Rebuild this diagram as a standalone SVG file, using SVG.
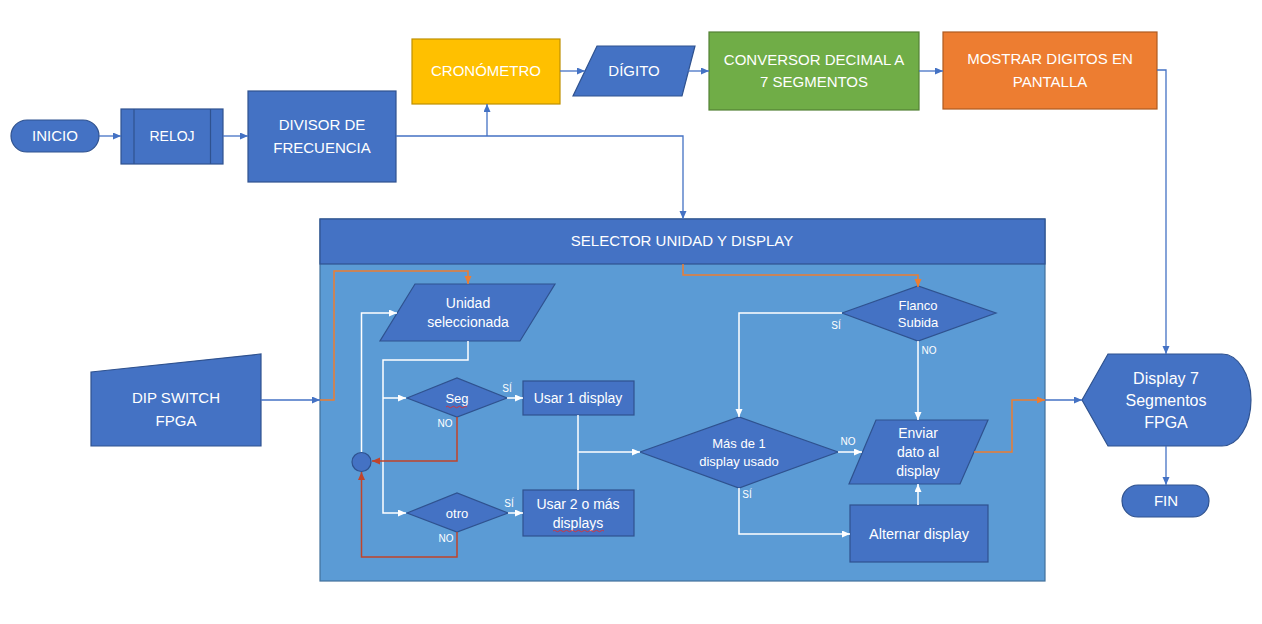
<svg xmlns="http://www.w3.org/2000/svg" width="1262" height="624" viewBox="0 0 1262 624">
<defs>
<marker id="aB" markerUnits="userSpaceOnUse" markerWidth="9" markerHeight="8" refX="8" refY="3.5" orient="auto"><path d="M0,0 L8,3.5 L0,7 z" fill="#4472C4"/></marker>
<marker id="aW" markerUnits="userSpaceOnUse" markerWidth="9" markerHeight="8" refX="8" refY="3.5" orient="auto"><path d="M0,0 L8,3.5 L0,7 z" fill="#FFFFFF"/></marker>
<marker id="aO" markerUnits="userSpaceOnUse" markerWidth="9" markerHeight="8" refX="8" refY="3.5" orient="auto"><path d="M0,0 L8,3.5 L0,7 z" fill="#ED7D31"/></marker>
<marker id="aR" markerUnits="userSpaceOnUse" markerWidth="9" markerHeight="8" refX="8" refY="3.5" orient="auto"><path d="M0,0 L8,3.5 L0,7 z" fill="#C1442A"/></marker>
</defs>
<style>
.n{fill:#4472C4;stroke:#2F528F;stroke-width:1.2}
.t{font-family:"Liberation Sans",Arial,sans-serif;fill:#FFFFFF;text-anchor:middle}
.f15{font-size:15px}.f14{font-size:14px}.f13{font-size:13px}.f10{font-size:10px}.f16{font-size:16px}
.cb{fill:none;stroke:#4472C4;stroke-width:1.3}
.cw{fill:none;stroke:#FFFFFF;stroke-width:1.5}
.co{fill:none;stroke:#ED7D31;stroke-width:1.5}
.cr{fill:none;stroke:#C1442A;stroke-width:1.5}
.sq{fill:none;stroke:#E03030;stroke-width:0.9}
</style>
<rect width="1262" height="624" fill="#FFFFFF"/>

<g id="panel">
<rect x="320" y="219" width="725" height="362" fill="#5B9BD5" stroke="#41719C" stroke-width="1.2"/>
<rect x="320" y="219" width="725" height="45" fill="#4472C4" stroke="#2F528F" stroke-width="1.2"/>
<text class="t f15" x="682" y="246">SELECTOR UNIDAD Y DISPLAY</text>
</g>

<g id="inicio"><rect class="n" x="11" y="120" width="88" height="32" rx="16"/><text class="t f15" x="55" y="141">INICIO</text></g>
<g id="reloj"><rect class="n" x="121" y="109" width="102" height="55"/><line x1="134" y1="109" x2="134" y2="164" stroke="#2F528F" stroke-width="1.2"/><line x1="210.5" y1="109" x2="210.5" y2="164" stroke="#2F528F" stroke-width="1.2"/><text class="t f14" x="172" y="141">RELOJ</text></g>
<g id="divisor"><rect class="n" x="248" y="91" width="148" height="91"/><text class="t f15" x="322" y="130">DIVISOR DE</text><text class="t f15" x="322" y="153">FRECUENCIA</text></g>
<g id="cronometro"><rect x="412" y="39" width="148" height="65" fill="#FFC000" stroke="#BF9000" stroke-width="1.2"/><text class="t f15" x="486" y="76">CRONÓMETRO</text></g>
<g id="digito"><path class="n" d="M597,46 H695 L682,96 H573 Z"/><text class="t f15" x="634" y="76">DÍGITO</text></g>
<g id="conversor"><rect x="709" y="32" width="210" height="78" fill="#70AD47" stroke="#538135" stroke-width="1.2"/><text class="t f15" x="814" y="65">CONVERSOR DECIMAL A</text><text class="t f15" x="814" y="87">7 SEGMENTOS</text></g>
<g id="mostrar"><rect x="943" y="32" width="214" height="77" fill="#ED7D31" stroke="#AE5A21" stroke-width="1.2"/><text class="t f15" x="1050" y="64">MOSTRAR DIGITOS EN</text><text class="t f15" x="1050" y="87">PANTALLA</text></g>
<g id="dipswitch"><path class="n" d="M91,372 L261,354 V446 H91 Z"/><text class="t f15" x="176" y="403">DIP SWITCH</text><text class="t f15" x="176" y="426">FPGA</text></g>
<g id="display7"><path class="n" d="M1082,400 L1108,354 H1222 A29,46 0 0 1 1222,446 H1108 Z"/><text class="t f16" x="1166" y="384">Display 7</text><text class="t f16" x="1166" y="406">Segmentos</text><text class="t f16" x="1166" y="428">FPGA</text></g>
<g id="fin"><rect class="n" x="1122" y="485" width="87" height="32" rx="16"/><text class="t f15" x="1166" y="506">FIN</text></g>

<g id="unidad"><path class="n" d="M415,284 H555 L520,341 H380 Z"/><text class="t f14" x="468" y="308">Unidad</text><text class="t f14" x="468" y="327">seleccionada</text></g>
<g id="seg"><path class="n" d="M407,398 L457,378 L507,398 L457,417 Z"/><text class="t f13" x="457" y="403">Seg</text><path class="sq" d="M446,407 q1.5,-1.5 3,0 t3,0 t3,0 t3,0 t3,0 t3,0 t3,0"/></g>
<g id="otro"><path class="n" d="M407,513 L457,493 L508,513 L457,532 Z"/><text class="t f13" x="457" y="518">otro</text></g>
<g id="circulo"><circle class="n" cx="361.5" cy="462" r="9.5"/></g>
<g id="usar1"><rect class="n" x="523" y="381" width="111" height="34"/><text class="t f14" x="578" y="403">Usar 1 display</text></g>
<g id="usar2"><rect class="n" x="523" y="490" width="111" height="46"/><text class="t f14" x="578" y="509">Usar 2 o más</text><text class="t f14" x="578" y="528">displays</text><path class="sq" d="M553,531 q1.5,-1.5 3,0 t3,0 t3,0 t3,0 t3,0 t3,0 t3,0 t3,0 t3,0 t3,0 t3,0 t3,0 t3,0 t3,0 t3,0 t3,0 t3,0"/></g>
<g id="masde1"><path class="n" d="M640,452 L739,417 L838,452 L739,488 Z"/><text class="t f13" x="739" y="448">Más de 1</text><text class="t f13" x="739" y="466">display usado</text></g>
<g id="flanco"><path class="n" d="M842,313 L918,286 L996,313 L918,341 Z"/><text class="t f13" x="918" y="310">Flanco</text><text class="t f13" x="918" y="327">Subida</text></g>
<g id="enviar"><path class="n" d="M876,420 H988 L960,484 H849 Z"/><text class="t f14" x="918" y="438">Enviar</text><text class="t f14" x="918" y="457">dato al</text><text class="t f14" x="918" y="476">display</text></g>
<g id="alternar"><rect class="n" x="850" y="505" width="138" height="57"/><text class="t" style="font-size:14.5px" x="919" y="539">Alternar display</text></g>

<g id="connectors">
<path class="cb" d="M99,136 H121" marker-end="url(#aB)"/>
<path class="cb" d="M223,136 H248" marker-end="url(#aB)"/>
<path class="cb" d="M396,136 H683 V219" marker-end="url(#aB)"/>
<path class="cb" d="M487,136 V104" marker-end="url(#aB)"/>
<path class="cb" d="M560,71 H585" marker-end="url(#aB)"/>
<path class="cb" d="M688,71 H709" marker-end="url(#aB)"/>
<path class="cb" d="M919,71 H943" marker-end="url(#aB)"/>
<path class="cb" d="M1157,70 H1166 V354" marker-end="url(#aB)"/>
<path class="cb" d="M1166,446 V485" marker-end="url(#aB)"/>
<path class="cb" d="M261,400 H320" marker-end="url(#aB)"/>
<path class="cb" d="M1045,400 H1082" marker-end="url(#aB)"/>
<path class="co" d="M320,400 H334 V271 H468 V284" marker-end="url(#aO)"/>
<path class="co" d="M683,264 V275 H918 V287" marker-end="url(#aO)"/>
<path class="co" d="M974,452 H1012 V400 H1045" marker-end="url(#aO)"/>
<path class="cw" d="M468,341 V360 H383 V513 H406" marker-end="url(#aW)"/>
<path class="cw" d="M383,398 H406" marker-end="url(#aW)"/>
<path class="cw" d="M361.5,452 V313 H397" marker-end="url(#aW)"/>
<path class="cw" d="M507,398 H523" marker-end="url(#aW)"/>
<path class="cw" d="M508,513 H523" marker-end="url(#aW)"/>
<path class="cr" d="M457,417 V461 H372" marker-end="url(#aR)"/>
<path class="cr" d="M457,532 V557 H361.5 V472" marker-end="url(#aR)"/>
<path class="cw" d="M578,415 V490"/>
<path class="cw" d="M578,452 H640" marker-end="url(#aW)"/>
<path class="cw" d="M838,452 H862" marker-end="url(#aW)"/>
<path class="cw" d="M739,488 V534 H850" marker-end="url(#aW)"/>
<path class="cw" d="M842,313 H739 V417" marker-end="url(#aW)"/>
<path class="cw" d="M918,341 V420" marker-end="url(#aW)"/>
<path class="cw" d="M918,505 V484" marker-end="url(#aW)"/>
<text class="t f10" x="507" y="391.5">SÍ</text>
<text class="t f10" x="445" y="426.5">NO</text>
<text class="t f10" x="509" y="506.5">SÍ</text>
<text class="t f10" x="446" y="541.5">NO</text>
<text class="t f10" x="848" y="444.5">NO</text>
<text class="t f10" x="747" y="497.5">SÍ</text>
<text class="t f10" x="836" y="328.5">SÍ</text>
<text class="t f10" x="929" y="353.5">NO</text>
</g>
</svg>
